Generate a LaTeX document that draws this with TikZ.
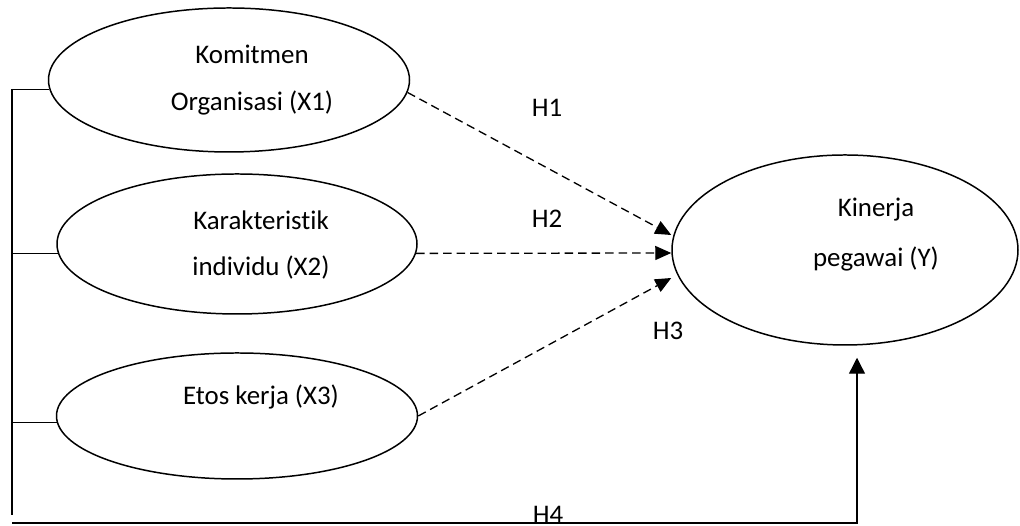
\documentclass[tikz,border=0pt]{standalone}
\usepackage{fontspec}
\setmainfont{Carlito}[Ligatures=NoCommon]
\usetikzlibrary{arrows.meta,shapes.geometric}

\begin{document}
\begin{tikzpicture}

    % --- Grundeinstellungen für Styles ---
    \tikzset{
        % Basis-Stil für alle Konstrukte
        construct/.style={
            draw, 
            ellipse, 
            line width=0.85pt, 
            inner sep=0pt
        },
        % Stil für freistehende Beschriftungen
        labeltext/.style={
            font=\fontsize{15.3}{18}\selectfont, 
            anchor=base, 
            inner sep=0pt
        },
        % Stil für einfache Linien
        mainline/.style={
            line width=0.75pt
        },
        % Stil für Hypothesenpfeile
        hypline/.style={
            mainline,
            dash pattern=on 0.17cm off 0.1cm,
            -{Triangle[length=3.2mm, width=2.8mm]}
        }
    }

    \useasboundingbox (0,0) rectangle (20.4,10.52);

    % --- 1. Konstrukte ---

    % Komitmen Organisasi
    \node[construct, minimum width=7.22cm, minimum height=2.88cm] (x1) at (4.58, 8.92) {};
    \node[labeltext] (x1a) at (5.04, 9.24) {Komitmen};
    \node[labeltext] (x1b) at (5.04, 8.30) {Organisasi (X1)};

    % Karakteristik individu
    \node[construct, minimum width=7.2cm, minimum height=2.8cm] (x2) at (4.74, 5.64) {};
    \node[labeltext] (x2a) at (5.22, 5.92) {Karakteristik};
    \node[labeltext] (x2b) at (5.22, 5.00) {individu (X2)};

    % Etos kerja
    \node[construct, minimum width=7.22cm, minimum height=2.52cm] (x3) at (4.74, 2.2) {};
    \node[labeltext] (x3a) at (5.22, 2.42) {Etos kerja (X3)};

    % Kinerja pegawai
    \node[construct, minimum width=6.92cm, minimum height=3.8cm] (y) at (16.9, 5.52) {};
    \node[labeltext] (ya) at (17.52, 6.18) {Kinerja};
    \node[labeltext] (yb) at (17.52, 5.18) {pegawai (Y)};

    % Hypothesen
    \node[labeltext] (h1) at (10.94, 8.18) {H1};
    \node[labeltext] (h2) at (10.94, 5.96) {H2};
    \node[labeltext] (h3) at (13.36, 3.72) {H3};
    \node[labeltext] (h4) at (10.96, 0.04) {H4};

    % --- 2. Verbindungen ---

    % Klammer links
    \coordinate (top) at (0.24, 8.74);
    \coordinate (bottom) at (0.24, 0.22);
    \coordinate (base) at (0.24, 0.06);
    \draw[mainline] (top) -- (bottom);
    \draw[mainline] (x1.183 -| top) -- (x1.183);
    \draw[mainline] (x2.183 -| top) -- (x2.183);
    \draw[mainline] (x3.182 -| top) -- (x3.182);

    % Pfeile H1 bis H3
    \draw[hypline] (x1.356) -- ([yshift=0.3cm]y.west);
    \draw[hypline] (x2.357) -- ([yshift=-0.06cm]y.west);
    \draw[hypline] (x3.east) -- ([yshift=-0.56cm]y.west);

    % Pfeil H4
    \draw[mainline, -{Triangle[length=3.2mm, width=3.2mm]}] (base) -| ([xshift=0.24cm, yshift=-0.24cm]y.south);

\end{tikzpicture}
\end{document}
